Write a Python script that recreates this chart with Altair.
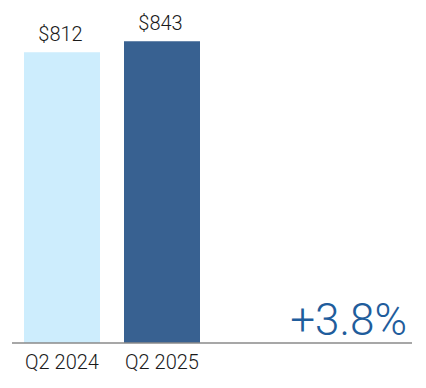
import altair as alt
import pandas as pd

quarters = ["Q2 2024", "Q2 2025"]
values = [812, 843]
colors = ["#cdedfd", "#386191"]
change_label = "+3.8%"

df = pd.DataFrame({"quarter": quarters, "value": values, "color": colors,
                   "label": ["$" + str(v) for v in values]})

x = alt.X("quarter:N", sort=quarters,
          scale=alt.Scale(domain=quarters, range=[0, 200], paddingInner=0.24, paddingOuter=0.12),
          axis=alt.Axis(title=None, domain=False, ticks=False, tickSize=0, labelAngle=0,
                        labelFont="Roboto", labelFontSize=20, labelFontWeight=300,
                        labelColor="#1a1a1a", labelPadding=9))
y = alt.Y("value:Q", scale=alt.Scale(domain=[0, 930], nice=False, zero=True), axis=None)

bars = alt.Chart(df).mark_bar().encode(
    x=x, y=y, color=alt.Color("color:N", scale=None))

labels = alt.Chart(df).mark_text(baseline="alphabetic", dy=-11, dx=-1.5, font="Roboto",
                                 fontSize=20, fontWeight=300, color="#1a1a1a").encode(
    x=alt.X("quarter:N", sort=quarters), y="value:Q", text="label:N")

base = alt.Chart(pd.DataFrame({"v": [0]})).mark_rule(color="#8a8a8a", strokeWidth=1.5).encode(
    x=alt.value(0), x2=alt.value(400), y=alt.Y("v:Q"))

change = alt.Chart(pd.DataFrame({"v": [0], "t": [change_label]})).mark_text(
    align="right", baseline="alphabetic", dy=-8, font="Roboto", fontSize=44, fontWeight=300,
    color="#1f5d9c").encode(x=alt.value(395), y=alt.Y("v:Q"), text="t:N")

chart = alt.layer(bars, labels, base, change).properties(
    width=400, height=333,
    background="white",
    autosize=alt.AutoSizeParams(type="none"),
    padding={"left": 4, "top": 2, "right": 4, "bottom": 30},
).configure_view(stroke=None)

chart.save("out.html", embed_options={"renderer": "svg", "actions": False})
